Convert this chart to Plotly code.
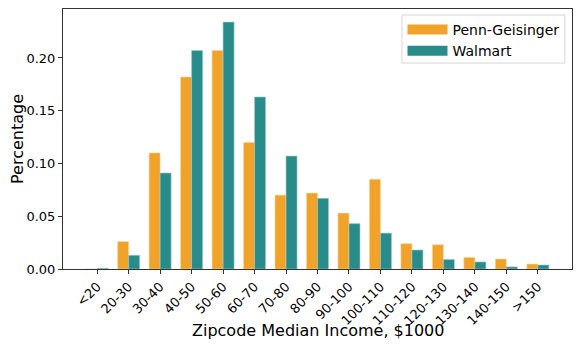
import plotly.graph_objects as go

categories = ["<20", "20-30", "30-40", "40-50", "50-60", "60-70", "70-80", "80-90",
              "90-100", "100-110", "110-120", "120-130", "130-140", "140-150", ">150"]
penn_geisinger = [0.0, 0.026, 0.110, 0.182, 0.207, 0.120, 0.070, 0.072,
                  0.053, 0.085, 0.024, 0.023, 0.011, 0.0095, 0.0047]
walmart = [0.0007, 0.013, 0.091, 0.207, 0.234, 0.163, 0.107, 0.067,
           0.043, 0.034, 0.018, 0.009, 0.0067, 0.002, 0.0038]
series_names = ["Penn-Geisinger", "Walmart"]
series_colors = ["#F0A229", "#2A8C8A"]
edge_colors = ["#F8D9A0", "#9CCBC9"]
y_ticks = [0.0, 0.05, 0.10, 0.15, 0.20]
y_tick_text = ["0.00", "0.05", "0.10", "0.15", "0.20"]
x_title = "Zipcode Median Income, $1000"
y_title = "Percentage"

FONT = "DejaVu Sans"

fig = go.Figure()
for name, vals, col, ecol in zip(series_names, [penn_geisinger, walmart], series_colors, edge_colors):
    fig.add_trace(go.Bar(x=categories, y=vals, name=name, showlegend=False,
                         marker=dict(color=col, line=dict(color=ecol, width=0.6))))
# legend-only entries drawn as wide swatches
for name, col in zip(series_names, series_colors):
    fig.add_trace(go.Scatter(x=[None], y=[None], mode="lines", name=name,
                             line=dict(color=col, width=10)))

fig.update_layout(
    width=573, height=341,
    margin=dict(l=55, r=9, t=1, b=80, autoexpand=False),
    paper_bgcolor="white", plot_bgcolor="white",
    barmode="group", bargap=0.3, bargroupgap=0,
    font=dict(family=FONT, size=13, color="black"),
    showlegend=True,
    legend=dict(x=0.667, y=0.981, xanchor="left", yanchor="top",
                bgcolor="rgba(0,0,0,0)", borderwidth=0,
                font=dict(family=FONT, size=14), itemwidth=40),
    shapes=[
        dict(type="rect", xref="paper", yref="paper", x0=0.666, x1=0.986,
             y0=0.792, y1=0.977, line=dict(color="#D6D6D6", width=1),
             fillcolor="rgba(255,255,255,0.8)", layer="above"),
    ],
    annotations=[
        dict(text=x_title, xref="paper", yref="paper", x=0.5, y=-0.238,
             xanchor="center", yanchor="middle", showarrow=False,
             font=dict(family=FONT, size=16)),
        dict(text=y_title, xref="paper", yref="paper", x=-0.0904, y=0.5,
             xanchor="center", yanchor="middle", showarrow=False, textangle=-90,
             font=dict(family=FONT, size=16)),
    ],
)
fig.update_xaxes(
    type="category", range=[-1.085, 15.085], automargin=False,
    showline=True, linecolor="#333333", linewidth=1, mirror=True,
    ticks="outside", ticklen=4, tickcolor="#333333",
    tickangle=-45, tickfont=dict(family=FONT, size=13),
    showgrid=False,
)
fig.update_yaxes(
    range=[0, 0.2464], automargin=False,
    tickvals=y_ticks, ticktext=y_tick_text,
    showline=True, linecolor="#333333", linewidth=1, mirror=True,
    ticks="outside", ticklen=4, tickcolor="#333333",
    tickfont=dict(family=FONT, size=13),
    showgrid=False, zeroline=False,
)

fig.write_html("out.html")
